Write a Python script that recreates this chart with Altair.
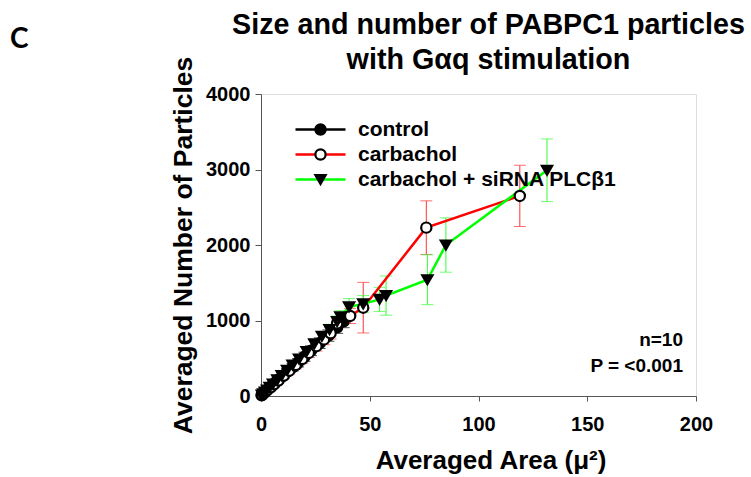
import altair as alt
import pandas as pd

# ---- data ----
series_names = ["control", "carbachol", "carbachol + siRNA PLCβ1"]

control_x = [0.3, 0.8, 1.5, 2.5, 3.5, 5, 6.5, 8, 10, 12, 14.5, 17, 20, 23, 27, 31, 35, 38]
control_y = [10, 25, 45, 70, 100, 135, 175, 215, 265, 320, 380, 440, 520, 600, 700, 800, 910, 990]
control_e = [5, 8, 10, 15, 20, 25, 30, 35, 40, 45, 50, 55, 60, 65, 70, 75, 80, 85]

carb_x = [0.5, 1.2, 2, 3, 4.5, 6, 8, 10.5, 13, 16, 19, 22, 25.5, 29, 32, 35, 41, 47, 76, 119]
carb_y = [15, 35, 55, 80, 115, 155, 205, 270, 335, 410, 490, 570, 660, 750, 830, 960, 1060, 1170, 2230, 2650]
carb_e = [5, 10, 15, 20, 25, 30, 35, 40, 45, 50, 55, 60, 65, 70, 75, 60, 100, 335, 355, 405]

sirna_x = [0.4, 1, 1.8, 2.8, 4, 5.5, 7.5, 9.5, 12, 14.5, 17.5, 21, 24.5, 28, 31.5, 35, 36.5, 40.5, 47, 54.5, 57.5, 76.5, 85, 131.5]
sirna_y = [12, 30, 52, 80, 115, 160, 215, 270, 340, 410, 490, 590, 690, 790, 880, 985, 1050, 1180, 1220, 1280, 1330, 1540, 2000, 2990]
sirna_e = [5, 8, 12, 15, 20, 25, 30, 35, 40, 45, 50, 55, 60, 65, 70, 75, 80, 110, 110, 160, 260, 330, 360, 415]

x_ticks = [0, 50, 100, 150, 200]
y_ticks = [0, 1000, 2000, 3000, 4000]

title_lines = ["Size and number of PABPC1 particles", "with Gαq stimulation"]
notes = ["n=10", "P = <0.001"]

line_colors = ["#000000", "#ff0000", "#00ff00"]
bar_colors = ["#000000", "#ff3333", "#33ff33"]
marker_shapes = ["circle", "circle", "triangle-down"]
marker_fills = ["#000000", "#ffffff", "#000000"]
marker_strokes = ["#000000", "#000000", "#000000"]

marker_names = [n + " (marker)" for n in series_names]
bar_names = [n + " (bar)" for n in series_names]

rows = []
for name, mname, bname, xs, ys, es in zip(series_names, marker_names, bar_names,
                                          [control_x, carb_x, sirna_x],
                                          [control_y, carb_y, sirna_y],
                                          [control_e, carb_e, sirna_e]):
    for i, (x, y, e) in enumerate(zip(xs, ys, es)):
        rows.append({"series": name, "marker": mname, "bar": bname,
                     "x": x, "y": y, "lo": y - e, "hi": y + e, "i": i})
df = pd.DataFrame(rows)

FONT = "Liberation Sans"
W, H = 435, 302

base = alt.Chart(df)

xscale = alt.Scale(domain=[0, 200], nice=False)
yscale = alt.Scale(domain=[0, 4000], nice=False)

xenc = alt.X("x:Q", scale=xscale,
             axis=alt.Axis(values=x_ticks, format="d", title="Averaged Area (μ²)", grid=False,
                           labelFontSize=20, labelFont=FONT, labelFontWeight="bold",
                           titleFontSize=26, titleFont=FONT, titleFontWeight="bold",
                           titleX=W / 2 + 12, titleAlign="center",
                           tickSize=5, labelPadding=13, titlePadding=13,
                           domainColor="#555555", tickColor="#555555",
                           labelColor="black", titleColor="black", labelFlush=False))
yenc = alt.Y("y:Q", scale=yscale,
             axis=alt.Axis(values=y_ticks, format="d", title="Averaged Number of Particles", grid=False,
                           labelFontSize=20, labelFont=FONT, labelFontWeight="bold",
                           titleFontSize=26.5, titleFont=FONT, titleFontWeight="bold",
                           tickSize=6, labelPadding=5, titlePadding=8,
                           domainColor="#555555", tickColor="#555555",
                           labelColor="black", titleColor="black", labelFlush=False))

bar_scale = alt.Scale(domain=bar_names, range=bar_colors)

err_rule = base.mark_rule(strokeWidth=1).encode(
    x=xenc, y=alt.Y("lo:Q", scale=yscale), y2="hi:Q",
    color=alt.Color("bar:N", scale=bar_scale, legend=None))
cap_lo = base.mark_tick(orient="horizontal", size=12, thickness=1).encode(
    x="x:Q", y=alt.Y("lo:Q", scale=yscale),
    color=alt.Color("bar:N", scale=bar_scale, legend=None))
cap_hi = base.mark_tick(orient="horizontal", size=12, thickness=1).encode(
    x="x:Q", y=alt.Y("hi:Q", scale=yscale),
    color=alt.Color("bar:N", scale=bar_scale, legend=None))
errbars = alt.layer(err_rule, cap_lo, cap_hi)

lines = base.mark_line(strokeWidth=2.5).encode(
    x=xenc, y=yenc, order="i:Q", detail="series:N",
    color=alt.Color("series:N", scale=alt.Scale(domain=series_names, range=line_colors),
                    legend=alt.Legend(title=None, orient="none", legendX=49, legendY=25,
                                      symbolType="M-5,0H5", symbolSize=100,
                                      symbolStrokeWidth=2.5, labelFontSize=21,
                                      labelFont=FONT, labelFontWeight="bold",
                                      labelColor="black", labelOffset=27, labelLimit=400,
                                      rowPadding=3, padding=0, zindex=0)))

MSIZE = 105
marker_legend = alt.Legend(title=None, orient="none", legendX=49, legendY=25,
                           symbolStrokeWidth=2.2, symbolSize=MSIZE, symbolOpacity=1,
                           labelFontSize=21, labelFont=FONT, labelExpr="''",
                           labelFontWeight="bold", labelOpacity=0,
                           rowPadding=3, padding=0, zindex=1)
points = base.mark_point(size=MSIZE, strokeWidth=2.2, opacity=1).encode(
    x="x:Q", y="y:Q",
    shape=alt.Shape("marker:N", scale=alt.Scale(domain=marker_names, range=marker_shapes),
                    legend=marker_legend),
    fill=alt.Fill("marker:N", scale=alt.Scale(domain=marker_names, range=marker_fills),
                  legend=marker_legend),
    stroke=alt.Stroke("marker:N", scale=alt.Scale(domain=marker_names, range=marker_strokes),
                      legend=marker_legend))

def label(text, x, y, size, font=FONT, align="center"):
    return alt.Chart(pd.DataFrame({"t": [text]})).mark_text(
        align=align, baseline="middle", fontSize=size, font=font, fontWeight="bold",
        color="black").encode(text="t:N", x=alt.value(x), y=alt.value(y))

t1 = label(title_lines[0], W / 2 + 10, -69, 28.7)
t2 = label(title_lines[1], W / 2 + 10, -34, 28.7)
ann1 = label(notes[0], 422, 246, 19, align="right")
ann2 = label(notes[1], 422, 272, 19, align="right")
panel = label("C", -251, -54, 28, font="Lato", align="left")

chart = alt.layer(errbars, lines, points, ann1, ann2, t1, t2, panel).resolve_scale(
    color="independent"
).properties(
    width=W, height=H,
    autosize=alt.AutoSizeParams(type="none"),
    padding={"left": 261, "top": 94, "right": 55, "bottom": 81},
).configure_view(stroke="#555555", strokeWidth=1).configure(background="white")

chart.save("out.html", embed_options={"renderer": "svg", "actions": False})
